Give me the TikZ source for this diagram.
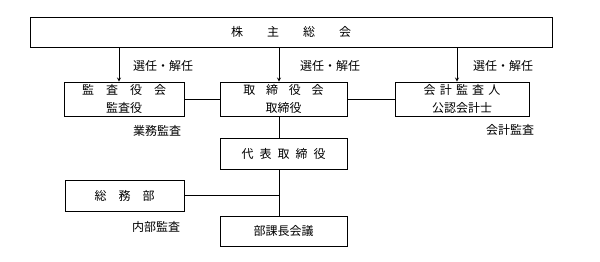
\documentclass[tikz,border=0pt]{standalone}
\usepackage{fontspec}
\setmainfont{Noto Sans CJK JP}
\newcommand{\spaced}[2]{\foreach \ch [count=\k] in {#2}{\ifnum\k>1 \hspace{#1}\fi\ch}}

\begin{document}
\begin{tikzpicture}[>=stealth, x=1pt, y=-1pt, line width=0.8pt,
    font=\fontsize{12}{18}\selectfont,
    box/.style={draw, align=center, inner sep=0pt}]

        \useasboundingbox (0,0) rectangle (600,262);

        % 株主総会
        \node[box, minimum width=522pt, minimum height=30pt] (soukai) at (291, 32) {\spaced{2em}{株,主,総,会}};

        % 監査役会
        \node[box, minimum width=120pt, minimum height=34pt] (kansa) at (124, 99) {\spaced{1em}{監,査,役,会}\\監査役};

        % 取締役会
        \node[box, minimum width=127pt, minimum height=34pt] (torishimari) at (283.5, 99) {\spaced{0.9em}{取,締,役,会}\\取締役};

        % 会計監査人
        \node[box, minimum width=134pt, minimum height=34pt] (kaikei) at (462, 99) {\spaced{0.35em}{会,計,監,査,人}\\公認会計士};

        % 代表取締役
        \node[box, minimum width=127pt, minimum height=31pt] (daihyo) at (283.5, 153.5) {\spaced{0.5em}{代,表,取,締,役}};

        % 総務部
        \node[box, minimum width=119pt, minimum height=31pt] (soumu) at (124.5, 195.5) {\spaced{1em}{総,務,部}};

        % 部課長会議
        \node[box, minimum width=127pt, minimum height=30pt] (bukachou) at (283.5, 231) {部課長会議};

        % ラベル
        \node (sennin1) at (163, 66) {選任・解任};
        \node (sennin2) at (330, 66) {選任・解任};
        \node (sennin3) at (503, 66) {選任・解任};
        \node (gyoumu) at (157, 131) {業務監査};
        \node (kaikeikansa) at (510, 130) {会計監査};
        \node (naibu) at (156, 227) {内部監査};

        % ========================================================
        % 線
        % ========================================================

        % 株主総会 -> 各機関
        \draw[->] ([xshift=-5pt]kansa.north |- soukai.south) -- ([xshift=-5pt]kansa.north);
        \draw[->] ([xshift=-4.5pt]torishimari.north |- soukai.south) -- ([xshift=-4.5pt]torishimari.north);
        \draw[->] ([xshift=-5pt]kaikei.north |- soukai.south) -- ([xshift=-5pt]kaikei.north);

        % 横の線
        \draw (kansa.east) -- (torishimari.west);
        \draw (torishimari.east) -- (kaikei.west);

        % 縦の線
        \draw ([xshift=-4.5pt]torishimari.south) -- ([xshift=-4.5pt]daihyo.north);
        \draw ([xshift=-4.5pt]daihyo.south) -- ([xshift=-4.5pt]bukachou.north);
        \draw (soumu.east) -- ([xshift=-4.5pt]soumu.east -| daihyo.south);

    \end{tikzpicture}
\end{document}
